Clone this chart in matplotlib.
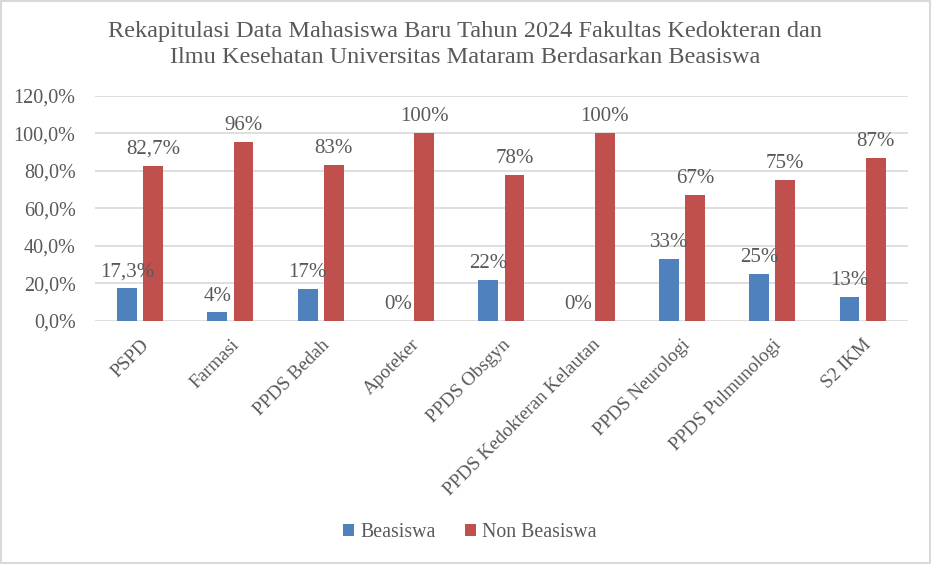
import matplotlib.pyplot as plt
from matplotlib.ticker import FuncFormatter
import numpy as np

plt.rcParams['font.family'] = ['Liberation Serif', 'DejaVu Serif']

# -----------------------------------------------------------------------------
# Data
# -----------------------------------------------------------------------------
categories = ["PSPD", "Farmasi", "PPDS Bedah", "Apoteker", "PPDS Obsgyn",
              "PPDS Kedokteran Kelautan", "PPDS Neurologi", "PPDS Pulmunologi", "S2 IKM"]
beasiswa = [17.3, 4.5, 17, 0, 22, 0, 33, 25, 13]
non_beasiswa = [82.7, 95.5, 83, 100, 78, 100, 67, 75, 87]
beasiswa_labels = ["17,3%", "4%", "17%", "0%", "22%", "0%", "33%", "25%", "13%"]
non_beasiswa_labels = ["82,7%", "96%", "83%", "100%", "78%", "100%", "67%", "75%", "87%"]

title = ("Rekapitulasi Data Mahasiswa Baru Tahun 2024 Fakultas Kedokteran dan\n"
         "Ilmu Kesehatan Universitas Mataram Berdasarkan Beasiswa")

BLUE = "#4F81BD"
RED = "#C0504D"
TEXT = "#595959"
GRID = "#D9D9D9"

fig = plt.figure(figsize=(9.31, 5.64), dpi=100)
ax = fig.add_axes([0.102, 0.431, 0.873, 0.399])

x = np.arange(len(categories))
w = 0.22
off = 0.145
b1 = ax.bar(x - off, beasiswa, w, color=BLUE, label="Beasiswa", zorder=3)
b2 = ax.bar(x + off, non_beasiswa, w, color=RED, label="Non Beasiswa", zorder=3)

# data labels above every bar
for bars, labels in ((b1, beasiswa_labels), (b2, non_beasiswa_labels)):
    for rect, lab in zip(bars, labels):
        ax.annotate(lab, (rect.get_x() + rect.get_width() / 2, rect.get_height()),
                    xytext=(0, 5), textcoords="offset points", ha="center", va="bottom",
                    fontsize=15, color=TEXT)

ax.set_ylim(0, 120)
ax.set_yticks(np.arange(0, 121, 20))
ax.yaxis.set_major_formatter(FuncFormatter(lambda v, p: f"{v:.1f}%".replace(".", ",")))
ax.set_xlim(-0.5, len(categories) - 0.5)
ax.set_xticks(x)
ax.set_xticklabels(categories, rotation=45, ha="right", rotation_mode="anchor")

ax.grid(axis="y", color=GRID, linewidth=1.2, zorder=0)
for s in ax.spines.values():
    s.set_visible(False)
ax.tick_params(axis="y", length=0, labelsize=14.5, colors=TEXT, pad=14)
ax.tick_params(axis="x", length=0, labelsize=13.8, colors=TEXT, pad=11)

fig.suptitle(title, y=0.962, fontsize=17.5, color=TEXT, linespacing=1.3)

fig.legend(handles=[b1, b2], loc="center", bbox_to_anchor=(0.505, 0.055), ncol=2,
           frameon=False, fontsize=14.3, labelcolor=TEXT, handlelength=0.55,
           handleheight=0.55, handletextpad=0.3, columnspacing=1.5)

# light border round the chart
fig.patches.append(plt.Rectangle((0.001, 0.001), 0.998, 0.998, transform=fig.transFigure,
                                 fill=False, edgecolor=GRID, linewidth=1.5))

fig.savefig("out.png", dpi=100)
